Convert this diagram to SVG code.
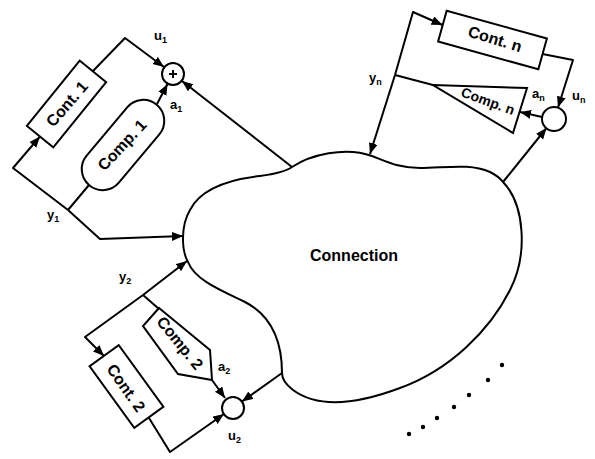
<svg xmlns="http://www.w3.org/2000/svg" width="595" height="459" viewBox="0 0 595 459">
<style>
.ln{fill:none;stroke:#000;stroke-width:2;stroke-linejoin:round}
.arr{marker-end:url(#ah)}
.box{fill:none;stroke:#000;stroke-width:2}
.t{font-family:"Liberation Sans",Arial,sans-serif;font-weight:bold;fill:#000;text-anchor:middle;dominant-baseline:central}
.lbl{font-family:"Liberation Sans",Arial,sans-serif;font-weight:bold;font-size:13px;fill:#000}
.sub{font-size:9px}
</style>
<defs>
<marker id="ah" markerUnits="userSpaceOnUse" markerWidth="12" markerHeight="10" refX="11" refY="4.5" orient="auto">
<path d="M0,0 L11,4.5 L0,9 Z" fill="#000"/>
</marker>
</defs>
<rect width="595" height="459" fill="#fff"/>

<g id="connection">
<path class="box" d="M292,167 C310,155 345,146 372,156 C390,163 400,168 420,168 C445,168 470,163 490,172 C498,176 500,178 503,182 C525,205 528,255 510,290 C490,330 450,370 400,388 C360,403 320,410 293,390 C285,384 282,378 282,373 C282,340 270,315 245,302 C220,290 195,280 188,262 C181,250 181,225 190,210 C200,190 225,180 260,176 C275,174 285,172 292,167 Z"/>
<text class="t" x="354" y="255" font-size="16">Connection</text>
</g>

<g id="cont1">
<rect class="box" x="-42" y="-17" width="84" height="34" transform="translate(66.5,104) rotate(-51)"/>
<text class="t" font-size="16" transform="translate(67,104) rotate(-49)">Cont. 1</text>
</g>
<g id="comp1">
<rect class="box" x="-52.5" y="-21" width="105" height="42" rx="21" transform="translate(123,145) rotate(-50)"/>
<text class="t" font-size="16" transform="translate(122,145) rotate(-47)">Comp. 1</text>
</g>
<g id="sum1">
<circle class="box" cx="173" cy="74" r="11"/>
<path class="ln" d="M169,74 H177 M173,70 V78" stroke-width="1.6"/>
</g>

<g id="cont2">
<rect class="box" x="-38" y="-18" width="76" height="36" transform="translate(126.5,386.5) rotate(54)"/>
<text class="t" font-size="16" transform="translate(126,388) rotate(55)">Cont. 2</text>
</g>
<g id="comp2">
<polygon class="box" points="159,308 210,350 212,380 178,374 143,326"/>
<text class="t" font-size="16" transform="translate(180,343) rotate(51)">Comp. 2</text>
</g>
<g id="sum2">
<circle class="box" cx="233" cy="408" r="11"/>
</g>

<g id="contn">
<rect class="box" x="-52" y="-16" width="104" height="32" transform="translate(492.5,40) rotate(15.5)"/>
<text class="t" font-size="16" transform="translate(495,39) rotate(17)">Cont. n</text>
</g>
<g id="compn">
<polygon class="box" points="433,85 527,88 513,133"/>
<text class="t" font-size="14" transform="translate(488,101) rotate(20)">Comp. n</text>
</g>
<g id="sumn">
<circle class="box" cx="554" cy="119" r="12"/>
</g>

<g id="connectors">
<polyline class="ln arr" points="93,71 125,38 164,67"/>
<line class="ln arr" x1="157" y1="104" x2="167.5" y2="84"/>
<line class="ln arr" x1="292" y1="167" x2="182" y2="81"/>
<polyline class="ln arr" points="68,210 13,168 40,136.5"/>
<polyline class="ln arr" points="68,210 100,239 183,236"/>
<line class="ln" x1="68" y1="210" x2="89" y2="185"/>

<line class="ln arr" x1="143" y1="295" x2="187" y2="261"/>
<polyline class="ln arr" points="143,295 85,337 104,356"/>
<line class="ln" x1="143" y1="295" x2="159" y2="309"/>
<line class="ln arr" x1="212" y1="380" x2="225" y2="398"/>
<polyline class="ln arr" points="149,418 170,452 224,414"/>
<line class="ln arr" x1="282" y1="373" x2="242" y2="401.5"/>

<line class="ln arr" x1="395" y1="75" x2="370" y2="154"/>
<polyline class="ln arr" points="395,75 413,12 442.5,25"/>
<line class="ln" x1="395" y1="75" x2="433" y2="85"/>
<polyline class="ln arr" points="542.5,54 573,60 558,107.5"/>
<line class="ln arr" x1="542" y1="117" x2="520" y2="112"/>
<line class="ln arr" x1="503" y1="182" x2="546.5" y2="128"/>
</g>

<g id="labels">
<text class="lbl" x="154" y="40">u<tspan class="sub" dy="3">1</tspan></text>
<text class="lbl" x="170" y="109">a<tspan class="sub" dy="3">1</tspan></text>
<text class="lbl" x="47" y="219">y<tspan class="sub" dy="3">1</tspan></text>
<text class="lbl" x="119" y="281">y<tspan class="sub" dy="3">2</tspan></text>
<text class="lbl" x="218" y="371">a<tspan class="sub" dy="3">2</tspan></text>
<text class="lbl" x="228" y="440">u<tspan class="sub" dy="3">2</tspan></text>
<text class="lbl" x="369" y="82">y<tspan class="sub" dy="3">n</tspan></text>
<text class="lbl" x="532" y="98">a<tspan class="sub" dy="3">n</tspan></text>
<text class="lbl" x="572" y="100">u<tspan class="sub" dy="3">n</tspan></text>
</g>

<g id="dots" fill="#000">
<circle cx="502" cy="365" r="2.2"/>
<circle cx="488" cy="380" r="2.2"/>
<circle cx="469" cy="395" r="2.2"/>
<circle cx="454" cy="407" r="2.2"/>
<circle cx="437" cy="418" r="2.2"/>
<circle cx="423" cy="427" r="2.2"/>
<circle cx="409" cy="434" r="2.2"/>
</g>
</svg>
